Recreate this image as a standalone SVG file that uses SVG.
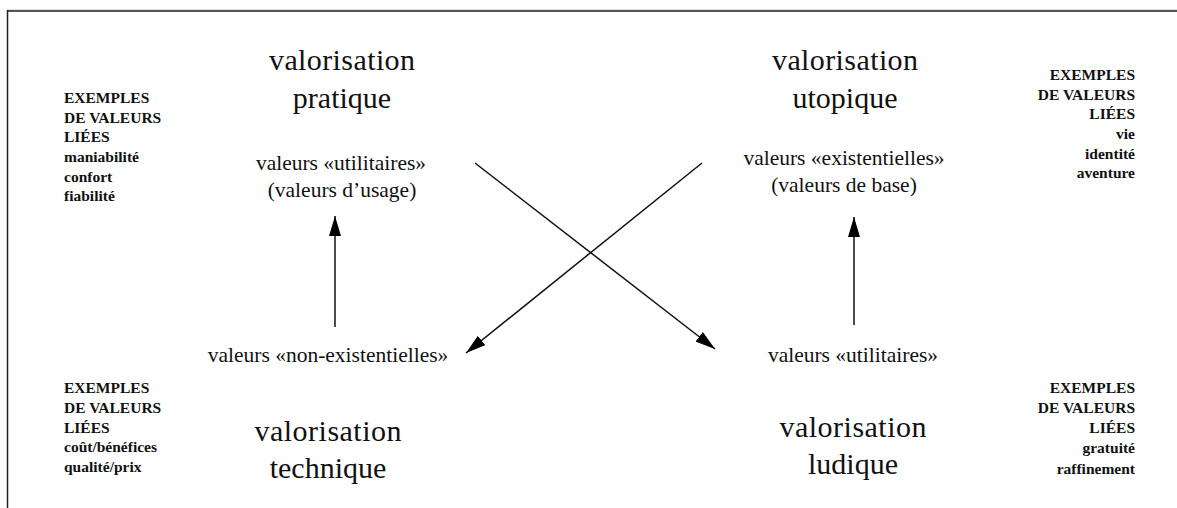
<svg xmlns="http://www.w3.org/2000/svg" width="1177" height="508" viewBox="0 0 1177 508">
<defs>
<style>
.title{font-family:"Liberation Serif","Times New Roman",serif;font-size:30px;fill:#111;text-anchor:middle}
.sub{font-family:"Liberation Serif","Times New Roman",serif;font-size:21.5px;fill:#111;text-anchor:middle}
.lab{font-family:"Liberation Serif","Times New Roman",serif;font-size:15.5px;font-weight:bold;fill:#111}
.r{text-anchor:end}
.conn{stroke:#111;stroke-width:1.5;fill:none;marker-end:url(#ah)}
</style>
<marker id="ah" viewBox="0 0 20 12" refX="20" refY="6" markerWidth="20" markerHeight="12" markerUnits="userSpaceOnUse" orient="auto">
<path d="M0,0 L20,6 L0,12 Z" fill="#000"/>
</marker>
</defs>
<rect width="1177" height="508" fill="#fff"/>
<g id="frame">
<line x1="7" y1="9.5" x2="1177" y2="9.5" stroke="#ddd" stroke-width="1"/>
<line x1="7" y1="11" x2="1177" y2="11" stroke="#555" stroke-width="2"/>
<line x1="7.5" y1="10" x2="7.5" y2="508" stroke="#222" stroke-width="1.5"/>
</g>
<g id="connectors">
<line class="conn" x1="335" y1="327" x2="335" y2="216"/>
<line class="conn" x1="854" y1="325" x2="854" y2="217"/>
<line class="conn" x1="475" y1="163" x2="715" y2="349"/>
<line class="conn" x1="702" y1="163" x2="466" y2="353"/>
</g>
<g id="pratique">
<text class="title" x="342" y="70" textLength="146" lengthAdjust="spacing">valorisation</text>
<text class="title" x="342" y="108">pratique</text>
<text class="sub" x="341" y="170">valeurs «utilitaires»</text>
<text class="sub" x="342" y="197">(valeurs d’usage)</text>
</g>
<g id="utopique">
<text class="title" x="845" y="70" textLength="146" lengthAdjust="spacing">valorisation</text>
<text class="title" x="845" y="108">utopique</text>
<text class="sub" x="844" y="165">valeurs «existentielles»</text>
<text class="sub" x="844" y="192">(valeurs de base)</text>
</g>
<g id="technique">
<text class="sub" x="328" y="362">valeurs «non-existentielles»</text>
<text class="title" x="328" y="441" textLength="147" lengthAdjust="spacing">valorisation</text>
<text class="title" x="328" y="478">technique</text>
</g>
<g id="ludique">
<text class="sub" x="853" y="362">valeurs «utilitaires»</text>
<text class="title" x="853" y="437" textLength="147" lengthAdjust="spacing">valorisation</text>
<text class="title" x="853" y="474">ludique</text>
</g>
<g id="exemples-pratique">
<text class="lab" x="64" y="103">EXEMPLES</text>
<text class="lab" x="64" y="123">DE VALEURS</text>
<text class="lab" x="64" y="142">LIÉES</text>
<text class="lab" x="64" y="162">maniabilité</text>
<text class="lab" x="64" y="182">confort</text>
<text class="lab" x="64" y="201">fiabilité</text>
</g>
<g id="exemples-utopique">
<text class="lab r" x="1135" y="80">EXEMPLES</text>
<text class="lab r" x="1135" y="100">DE VALEURS</text>
<text class="lab r" x="1135" y="119">LIÉES</text>
<text class="lab r" x="1135" y="139">vie</text>
<text class="lab r" x="1135" y="159">identité</text>
<text class="lab r" x="1135" y="178">aventure</text>
</g>
<g id="exemples-technique">
<text class="lab" x="64" y="393">EXEMPLES</text>
<text class="lab" x="64" y="413">DE VALEURS</text>
<text class="lab" x="64" y="433">LIÉES</text>
<text class="lab" x="64" y="452">coût/bénéfices</text>
<text class="lab" x="64" y="472">qualité/prix</text>
</g>
<g id="exemples-ludique">
<text class="lab r" x="1135" y="393">EXEMPLES</text>
<text class="lab r" x="1135" y="413">DE VALEURS</text>
<text class="lab r" x="1135" y="433">LIÉES</text>
<text class="lab r" x="1135" y="453">gratuité</text>
<text class="lab r" x="1135" y="474">raffinement</text>
</g>
</svg>
